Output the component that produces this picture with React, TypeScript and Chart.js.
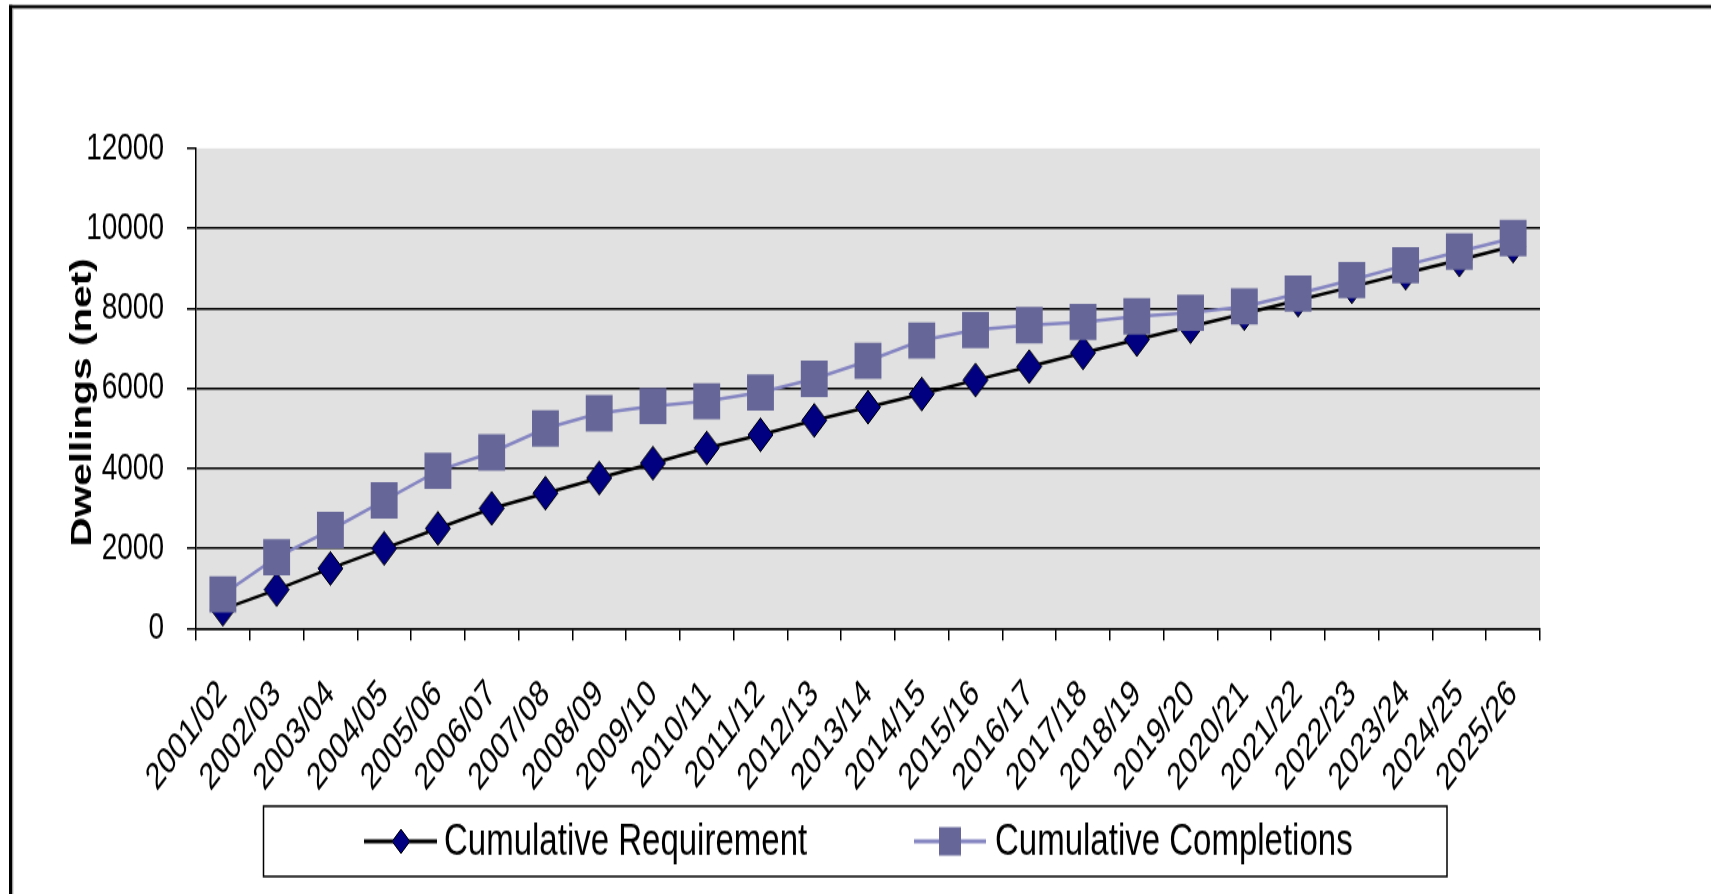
import React, { useEffect, useRef } from "react";
import { Chart, registerables } from "chart.js";

Chart.register(...registerables);

// ---- data ----
const categories = [
  "2001/02", "2002/03", "2003/04", "2004/05", "2005/06", "2006/07", "2007/08",
  "2008/09", "2009/10", "2010/11", "2011/12", "2012/13", "2013/14", "2014/15",
  "2015/16", "2016/17", "2017/18", "2018/19", "2019/20", "2020/21", "2021/22",
  "2022/23", "2023/24", "2024/25", "2025/26",
];
const cumulativeRequirement = [
  480, 970, 1500, 2000, 2500, 3000, 3380, 3760, 4130, 4510, 4840, 5200, 5530,
  5860, 6210, 6545, 6890, 7220, 7545, 7870, 8210, 8540, 8880, 9210, 9560,
];
const cumulativeCompletions = [
  850, 1780, 2460, 3200, 3940, 4400, 5000, 5380, 5560, 5680, 5900, 6240, 6690,
  7200, 7460, 7580, 7660, 7800, 7890, 8050, 8370, 8710, 9080, 9420, 9760,
];
const yTickValues = [0, 2000, 4000, 6000, 8000, 10000, 12000];
const seriesNames = ["Cumulative Requirement", "Cumulative Completions"];
const yAxisTitle = "Dwellings (net)";

// ---- geometry / style ----
const W = 1711;
const H_FULL = 894;
const H = 662; // drawing height, stretched vertically to H_FULL
const K = H_FULL / H;
const PLOT_LEFT = 196;
const PLOT_RIGHT = 1540;
const PLOT_TOP = 148.4 / K;
const PLOT_BOTTOM = 628.4 / K;
const FONT = '"Liberation Sans", Arial, Helvetica, sans-serif';
const REQ_LINE = "#000000";
const REQ_MARK = "#000080";
const COMP_LINE = "#8585c2";
const COMP_MARK = "#666699";
const PLOT_BG = "#e1e1e1";

const decorPlugin = {
  id: "decor",
  beforeDraw(chart: any) {
    const { ctx, chartArea: a } = chart;
    ctx.save();
    ctx.fillStyle = "#ffffff";
    ctx.fillRect(0, 0, chart.width, chart.height);
    ctx.fillStyle = PLOT_BG;
    ctx.fillRect(a.left, a.top, a.right - a.left, a.bottom - a.top);
    ctx.restore();
  },
  afterDraw(chart: any) {
    const { ctx } = chart;
    ctx.save();
    // outer frame (top and left only visible)
    ctx.fillStyle = "#000";
    ctx.fillRect(9, 3.7, chart.width - 9, 2.2);
    ctx.fillRect(9, 3.7, 3.3, chart.height);
    ctx.fillStyle = "#9a9a9a";
    ctx.fillRect(12.3, 5.9, chart.width, 0.8);
    ctx.fillRect(12.3, 5.9, 1, chart.height);

    // y axis title
    ctx.save();
    ctx.translate(83, 298);
    ctx.rotate(-Math.PI / 2);
    ctx.fillStyle = "#000";
    ctx.font = `bold 30px ${FONT}`;
    ctx.textAlign = "center";
    ctx.textBaseline = "middle";
    ctx.fillText(yAxisTitle, 0, 0);
    ctx.restore();

    // legend box
    const ly = 623;
    ctx.strokeStyle = "#000";
    ctx.lineWidth = 1.5;
    ctx.strokeRect(263.5, 597, 1183.5, 52);
    ctx.font = `33px ${FONT}`;
    ctx.textAlign = "left";
    ctx.textBaseline = "middle";

    // entry 1: requirement
    ctx.strokeStyle = REQ_LINE;
    ctx.lineWidth = 3;
    ctx.beginPath();
    ctx.moveTo(364, ly);
    ctx.lineTo(437, ly);
    ctx.stroke();
    const dx = 401, dr = 9;
    ctx.beginPath();
    ctx.moveTo(dx - dr, ly);
    ctx.lineTo(dx, ly - dr);
    ctx.lineTo(dx + dr, ly);
    ctx.lineTo(dx, ly + dr);
    ctx.closePath();
    ctx.fillStyle = REQ_MARK;
    ctx.fill();
    ctx.lineWidth = 1;
    ctx.strokeStyle = "#000";
    ctx.stroke();
    ctx.fillStyle = "#000";
    ctx.fillText(seriesNames[0], 444, ly + 1);

    // entry 2: completions
    ctx.strokeStyle = COMP_LINE;
    ctx.lineWidth = 3;
    ctx.beginPath();
    ctx.moveTo(914, ly);
    ctx.lineTo(986, ly);
    ctx.stroke();
    ctx.fillStyle = COMP_MARK;
    ctx.fillRect(950 - 11, ly - 10.5, 22, 21);
    ctx.fillStyle = "#000";
    ctx.fillText(seriesNames[1], 995, ly + 1);
    ctx.restore();
  },
};

export default function App() {
  const canvasRef = useRef<HTMLCanvasElement | null>(null);

  useEffect(() => {
    const canvas = canvasRef.current;
    if (!canvas) return;
    const chart = new Chart(canvas, {
      type: "line",
      data: {
        labels: categories,
        datasets: [
          {
            label: seriesNames[0],
            data: cumulativeRequirement,
            borderColor: REQ_LINE,
            borderWidth: 2.5,
            backgroundColor: REQ_MARK,
            pointStyle: "rectRot",
            pointRadius: 12.5,
            pointBackgroundColor: REQ_MARK,
            pointBorderColor: "#000",
            pointBorderWidth: 1,
            tension: 0,
            order: 2,
          },
          {
            label: seriesNames[1],
            data: cumulativeCompletions,
            borderColor: COMP_LINE,
            borderWidth: 2.5,
            backgroundColor: COMP_MARK,
            pointStyle: "rect",
            pointRadius: 19,
            pointBackgroundColor: COMP_MARK,
            pointBorderColor: COMP_MARK,
            pointBorderWidth: 0,
            tension: 0,
            order: 1,
          },
        ],
      },
      options: {
        responsive: false,
        animation: false,
        devicePixelRatio: 1,
        layout: { padding: { top: PLOT_TOP, right: W - PLOT_RIGHT, left: 0, bottom: 0 } },
        plugins: {
          legend: { display: false },
          tooltip: { enabled: false },
          title: { display: false },
        },
        scales: {
          x: {
            type: "category",
            offset: true,
            grid: {
              offset: true,
              drawOnChartArea: false,
              drawTicks: true,
              tickLength: 9,
              color: "#000",
              tickColor: "#000",
              lineWidth: 1.5,
            },
            border: { display: true, color: "#000", width: 1.5 },
            ticks: {
              color: "#000",
              font: { family: FONT, size: 28 },
              minRotation: 45,
              maxRotation: 45,
              autoSkip: false,
              padding: 23,
            },
            afterFit: (s: any) => {
              s.height = H - PLOT_BOTTOM;
            },
          },
          y: {
            min: 0,
            max: 12000,
            afterBuildTicks: (s: any) => {
              s.ticks = yTickValues.map((v) => ({ value: v }));
            },
            ticks: {
              color: "#000",
              font: { family: FONT, size: 28 },
              padding: 23,
              callback: (v: any) => String(v),
            },
            grid: {
              color: (c: any) =>
                c.tick && c.tick.value === 12000 ? "rgba(0,0,0,0)" : "#000",
              tickColor: "#000",
              lineWidth: 1.5,
              tickLength: 9,
              drawTicks: true,
            },
            border: { display: true, color: "#000", width: 1.5 },
            afterFit: (s: any) => {
              s.width = PLOT_LEFT;
            },
          },
        },
      },
      plugins: [decorPlugin],
    });
    return () => chart.destroy();
  }, []);

  return (
    <div
      style={{
        position: "fixed",
        left: 0,
        top: 0,
        width: W,
        height: H_FULL,
        overflow: "hidden",
        background: "#fff",
      }}
    >
      <canvas
        ref={canvasRef}
        width={W}
        height={H}
        style={{ display: "block", width: `${W}px`, height: `${H_FULL}px` }}
      />
    </div>
  );
}
